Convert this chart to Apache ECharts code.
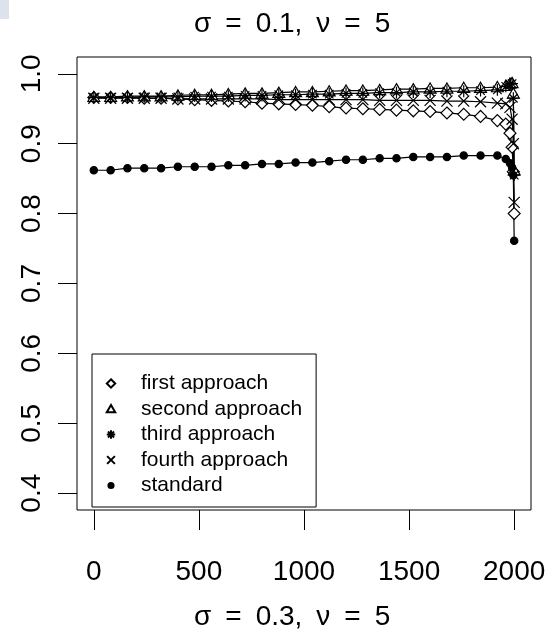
<!DOCTYPE html>
<html>
<head>
<meta charset="utf-8">
<script src="https://cdn.jsdelivr.net/npm/echarts@6/dist/echarts.min.js"></script>
<style>
  html, body { margin: 0; padding: 0; background: #fff; }
</style>
</head>
<body>
<div id="chart" style="width: 550px;height:629px;"></div>
<script>

// x positions: every 80 up to 1920, then the tail near 2000
var xValues = [0, 80, 160, 240, 320, 400, 480, 560, 640, 720, 800, 880, 960,
	1040, 1120, 1200, 1280, 1360, 1440, 1520, 1600, 1680, 1760, 1840, 1920,
	1960, 1980, 1990, 1996, 2000];

var firstApproach = [0.966, 0.966, 0.966, 0.965, 0.965, 0.964, 0.963, 0.962, 0.961, 0.960, 0.958, 0.957, 0.956,
	0.955, 0.953, 0.951, 0.950, 0.949, 0.948, 0.947, 0.946, 0.944, 0.942, 0.939, 0.933,
	0.928, 0.915, 0.895, 0.860, 0.800];
var secondApproach = [0.967, 0.967, 0.968, 0.968, 0.968, 0.969, 0.970, 0.970, 0.971, 0.972, 0.972, 0.973, 0.974,
	0.974, 0.975, 0.976, 0.976, 0.977, 0.978, 0.978, 0.979, 0.979, 0.980, 0.980, 0.981,
	0.983, 0.986, 0.987, 0.972, 0.862];
var thirdApproach = [0.966, 0.966, 0.966, 0.967, 0.967, 0.967, 0.968, 0.968, 0.968, 0.969, 0.969, 0.970, 0.970,
	0.971, 0.971, 0.972, 0.972, 0.973, 0.973, 0.974, 0.974, 0.975, 0.975, 0.976, 0.977,
	0.982, 0.985, 0.986, 0.965, 0.855];
var fourthApproach = [0.965, 0.965, 0.965, 0.965, 0.965, 0.964, 0.964, 0.964, 0.964, 0.964, 0.964, 0.963, 0.963,
	0.963, 0.963, 0.963, 0.963, 0.962, 0.962, 0.962, 0.962, 0.961, 0.961, 0.960, 0.958,
	0.957, 0.952, 0.935, 0.900, 0.816];
var standard = [0.862, 0.862, 0.865, 0.865, 0.865, 0.867, 0.867, 0.867, 0.869, 0.869, 0.871, 0.871, 0.873,
	0.873, 0.875, 0.877, 0.877, 0.879, 0.879, 0.881, 0.881, 0.881, 0.883, 0.883, 0.883,
	0.878, 0.872, 0.866, 0.855, 0.761];

var seriesNames = ['first approach', 'second approach', 'third approach', 'fourth approach', 'standard'];
var xTicks = [0, 500, 1000, 1500, 2000];
var yTicks = [0.4, 0.5, 0.6, 0.7, 0.8, 0.9, 1.0];

// all marks share a 20x20 box (M0 0 M20 20) so relative sizes hold in series and legend
var box = 'path://M0 0M20 20';
var marks = {
	diamond: box + 'M10 3L17 10L10 17L3 10Z',
	triangle: box + 'M10 3.5L17 15.5L3 15.5Z',
	asterisk: box + 'M3 10L17 10M10 3L10 17M5 5L15 15M15 5L5 15',
	cross: box + 'M3.5 3.5L16.5 16.5M16.5 3.5L3.5 16.5',
	dot: box + 'M14.3 10A4.3 4.3 0 1 1 5.7 10A4.3 4.3 0 1 1 14.3 10Z'
};

function pairs(ys) {
	return xValues.map(function (x, i) {
		return [x, ys[i]];
	});
}

function makeSeries(name, ys, symbol, fill) {
	return {
		name: name,
		type: 'line',
		data: pairs(ys),
		symbol: symbol,
		symbolSize: 17,
		showAllSymbol: true,
		lineStyle: { color: '#000', width: 1.2 },
		itemStyle: { color: fill, borderColor: '#000', borderWidth: 1.2 },
		emphasis: { disabled: true }
	};
}

var font = 'Liberation Sans';
var sp = '\u2002';
var chart = echarts.init(document.getElementById('chart'));

chart.setOption({
	animation: false,
	title: [{
		text: ['σ', '=', '0.1,', 'ν', '=', '5'].join(sp),
		left: 194,
		top: 10,
		padding: 0,
		textStyle: { fontFamily: font, fontSize: 28, fontWeight: 'normal', color: '#000', lineHeight: 28 }
	}, {
		text: ['σ', '=', '0.3,', 'ν', '=', '5'].join(sp),
		left: 194,
		top: 603,
		padding: 0,
		textStyle: { fontFamily: font, fontSize: 28, fontWeight: 'normal', color: '#000', lineHeight: 28 }
	}],
	graphic: [{
		type: 'rect',
		shape: { x: 0, y: 0, width: 9, height: 19 },
		style: { fill: '#dde3ec' }
	}],
	grid: {
		left: 77, right: 19, top: 57, bottom: 119,
		show: true, borderColor: '#000', borderWidth: 1
	},
	legend: {
		orient: 'vertical',
		left: 92,
		top: 354,
		padding: [19, 14, 11, 12],
		borderColor: '#000',
		borderWidth: 1,
		itemWidth: 26,
		itemHeight: 12,
		itemGap: 4.5,
		selectedMode: false,
		textStyle: { fontFamily: font, fontSize: 21, lineHeight: 21, color: '#000', padding: [0, 0, 0, 12] },
		data: [
			{ name: seriesNames[0], icon: marks.diamond },
			{ name: seriesNames[1], icon: marks.triangle },
			{ name: seriesNames[2], icon: marks.asterisk },
			{ name: seriesNames[3], icon: marks.cross },
			{ name: seriesNames[4], icon: marks.dot }
		]
	},
	xAxis: {
		type: 'value',
		min: -80,
		max: 2080,
		axisLine: { show: false, onZero: false },
		splitLine: { show: false },
		axisTick: { show: true, length: 20, customValues: xTicks, lineStyle: { color: '#000' } },
		axisLabel: {
			customValues: xTicks,
			margin: 48,
			fontFamily: font, fontSize: 28, lineHeight: 28, color: '#000',
			formatter: function (v) { return String(v); }
		}
	},
	yAxis: {
		type: 'value',
		min: 0.376,
		max: 1.024,
		axisLine: { show: false, onZero: false },
		splitLine: { show: false },
		axisTick: { show: true, length: 19, customValues: yTicks, lineStyle: { color: '#000' } },
		axisLabel: {
			customValues: yTicks,
			rotate: 90,
			margin: 31,
			fontFamily: font, fontSize: 28, lineHeight: 28, color: '#000',
			formatter: function (v) { return v.toFixed(1); }
		}
	},
	series: [
		makeSeries(seriesNames[0], firstApproach, marks.diamond, '#fff'),
		makeSeries(seriesNames[1], secondApproach, marks.triangle, '#fff'),
		makeSeries(seriesNames[2], thirdApproach, marks.asterisk, 'rgba(0,0,0,0)'),
		makeSeries(seriesNames[3], fourthApproach, marks.cross, 'rgba(0,0,0,0)'),
		makeSeries(seriesNames[4], standard, marks.dot, '#000')
	]
});

</script>
</body>
</html>
